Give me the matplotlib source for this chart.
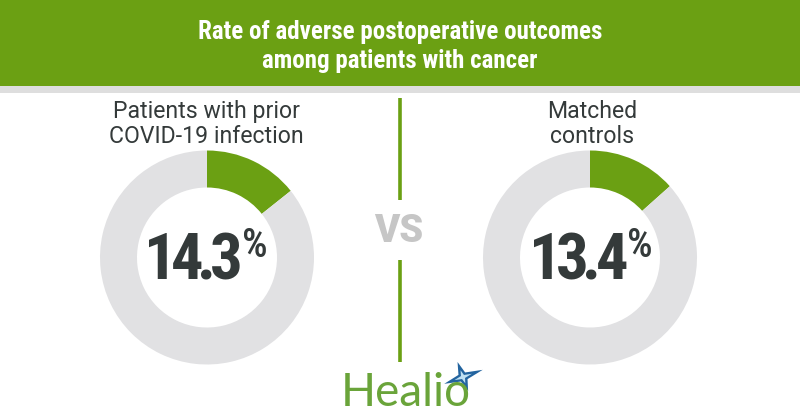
import matplotlib
matplotlib.use("Agg")
import matplotlib.pyplot as plt
from matplotlib import font_manager
from matplotlib.patches import Rectangle, Polygon
import numpy as np

# ---- data ----
title_lines = ["Rate of adverse postoperative outcomes", "among patients with cancer"]
group_labels = ["Patients with prior\nCOVID-19 infection", "Matched\ncontrols"]
rates = [14.3, 13.4]
rate_labels = ["14.3", "13.4"]
vs_label = "VS"
brand = "Healio"

GREEN = "#6ba013"
GRAY_RING = "#e1e1e3"
DARK = "#343a3a"
VS_GRAY = "#c6c6c6"

names = {f.name for f in font_manager.fontManager.ttflist}


def pick(*cands):
    for c in cands:
        if c in names:
            return c
    return "DejaVu Sans"


COND = pick("Roboto Condensed", "Liberation Sans Narrow", "DejaVu Sans")
REG = pick("Roboto", "Liberation Sans")

fig = plt.figure(figsize=(8, 4.2), dpi=100)
ax = fig.add_axes([0, 0, 1, 1])
renderer = fig.canvas.get_renderer()

# header band
ax.add_patch(Rectangle((0, 334), 800, 86, color=GREEN, lw=0))
ax.add_patch(Rectangle((0, 327), 800, 7, color="#dedede", lw=0))
ax.text(400, 381, title_lines[0], ha="center", va="baseline", color="white",
        fontsize=18, fontweight="bold", family=COND)
ax.text(400, 352, title_lines[1], ha="center", va="baseline", color="white",
        fontsize=18, fontweight="bold", family=COND)

centers = [(207, 162.5), (590, 162.5)]
label_x = [206.5, 592.5]
num_right = [243, 628]


def tracked_text(x_right, y, s, track, **kw):
    """Place string s right-aligned at x_right with tightened letter spacing."""
    widths = []
    for ch in s:
        t = ax.text(0, 0, ch, **kw)
        bb = t.get_window_extent(renderer)
        widths.append(bb.width)
        t.remove()
    total = sum(widths) - track * (len(s) - 1)
    x = x_right - total
    for ch, w in zip(s, widths):
        ax.text(x, y, ch, ha="left", va="baseline", **kw)
        x += w - track


for i, (cx, cy) in enumerate(centers):
    ax.pie([rates[i], 100 - rates[i]], colors=[GREEN, GRAY_RING], startangle=90,
           counterclock=False, center=(cx, cy), radius=107,
           wedgeprops=dict(width=37, linewidth=0), frame=True)
    l1, l2 = group_labels[i].split("\n")
    ax.text(label_x[i], 302, l1, ha="center", va="baseline", color=DARK,
            fontsize=16.6, family=REG)
    ax.text(label_x[i], 277, l2, ha="center", va="baseline", color=DARK,
            fontsize=16.6, family=REG)
    tracked_text(num_right[i], 141, rate_labels[i], 6, color=DARK,
                 fontsize=46.5, fontweight="bold", family=COND)
    ax.text(num_right[i] - 1, 163, "%", ha="left", va="baseline", color=DARK,
            fontsize=29, fontweight="medium", family=COND)

ax.set_xlim(0, 800)
ax.set_ylim(0, 420)
ax.set_aspect("equal")
ax.axis("off")

# divider
ax.plot([400, 400], [220, 322], color=GREEN, lw=2.6, solid_capstyle="butt")
ax.plot([400, 400], [58, 160], color=GREEN, lw=2.6, solid_capstyle="butt")
ax.text(399, 178, vs_label, ha="center", va="baseline", color=VS_GRAY,
        fontsize=27.5, fontweight="black", family=REG)

# logo
ax.text(341, 14, brand, ha="left", va="baseline", color="#6aa43a",
        fontsize=33, family=pick("Lato", "Open Sans"))
sx, sy = 463, 420 - 377
ang = np.deg2rad(np.arange(8) * 45 + 20)
rr = np.array([21, 5, 16, 5, 20, 5, 15, 5])
ax.add_patch(Polygon(np.c_[sx + rr * np.cos(ang), sy + rr * np.sin(ang)],
                     closed=True, color="#23649f", lw=0))
ax.add_patch(Polygon(np.c_[sx + rr * 0.45 * np.cos(ang), sy + rr * 0.45 * np.sin(ang)],
                     closed=True, color="#bfe0f2", lw=0))

fig.savefig("out.png", dpi=100)
